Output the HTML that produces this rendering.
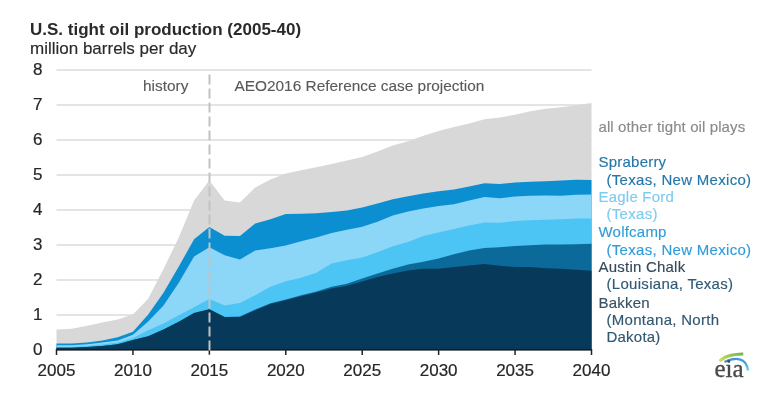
<!DOCTYPE html>
<html><head><meta charset="utf-8"><style>
html,body{margin:0;padding:0;background:#fff;}
body{width:776px;height:395px;overflow:hidden;position:relative;}
svg{position:absolute;left:0;top:0;filter:blur(0.35px);}
text{font-family:"Liberation Sans",sans-serif;}
</style></head><body>
<svg width="776" height="395" viewBox="0 0 776 395">
<rect width="776" height="395" fill="#fff"/>
<text x="30" y="34.9" font-size="17" font-weight="bold" fill="#2a2a2a">U.S. tight oil production (2005-40)</text>
<text x="30" y="53.7" font-size="17" fill="#2a2a2a" stroke="#2a2a2a" stroke-width="0.15">million barrels per day</text>
<rect x="56.5" y="314" width="535" height="2" fill="#e4e4e4"/>
<rect x="56.5" y="279" width="535" height="2" fill="#e4e4e4"/>
<rect x="56.5" y="244" width="535" height="2" fill="#e4e4e4"/>
<rect x="56.5" y="209" width="535" height="2" fill="#e4e4e4"/>
<rect x="56.5" y="174" width="535" height="2" fill="#e4e4e4"/>
<rect x="56.5" y="139" width="535" height="2" fill="#e4e4e4"/>
<rect x="56.5" y="104" width="535" height="2" fill="#e4e4e4"/>
<rect x="56.5" y="69" width="535" height="2" fill="#e4e4e4"/>

<g>
<path d="M56.5 349.5 L56.50,329.55 71.79,328.85 87.07,325.70 102.36,322.55 117.64,319.40 132.93,314.50 148.21,298.75 163.50,269.00 178.79,237.50 194.07,200.40 209.36,180.45 224.64,200.40 239.93,202.50 255.21,187.45 270.50,179.40 285.79,173.45 301.07,170.30 316.36,167.15 331.64,164.00 346.93,160.50 362.21,157.00 377.50,151.40 392.79,145.45 408.07,141.25 423.36,135.65 438.64,131.10 453.93,126.90 469.21,123.40 484.50,119.20 499.79,117.45 515.07,114.65 530.36,111.15 545.64,108.70 560.93,107.30 576.21,105.20 591.50,103.10 L591.5 349.5Z" fill="#d8d8d8"/>
<path d="M56.5 349.5 L56.50,343.55 71.79,343.55 87.07,342.50 102.36,340.40 117.64,337.25 132.93,331.65 148.21,314.50 163.50,292.80 178.79,266.55 194.07,239.25 209.36,227.00 224.64,235.75 239.93,236.10 255.21,223.50 270.50,219.30 285.79,214.05 301.07,213.70 316.36,213.35 331.64,211.95 346.93,210.55 362.21,207.40 377.50,203.55 392.79,199.35 408.07,196.20 423.36,193.40 438.64,191.30 453.93,189.55 469.21,186.40 484.50,183.25 499.79,183.95 515.07,182.55 530.36,181.85 545.64,181.15 560.93,180.45 576.21,179.75 591.50,180.10 L591.5 349.5Z" fill="#0b8fd1"/>
<path d="M56.5 349.5 L56.50,345.30 71.79,345.30 87.07,344.25 102.36,342.50 117.64,340.40 132.93,334.80 148.21,321.50 163.50,305.40 178.79,282.65 194.07,256.40 209.36,247.30 224.64,255.35 239.93,259.55 255.21,250.45 270.50,248.35 285.79,245.55 301.07,241.35 316.36,237.50 331.64,232.95 346.93,229.80 362.21,226.65 377.50,221.75 392.79,215.45 408.07,211.60 423.36,208.45 438.64,206.00 453.93,204.25 469.21,200.40 484.50,196.90 499.79,198.30 515.07,196.55 530.36,195.85 545.64,195.50 560.93,195.85 576.21,194.80 591.50,194.45 L591.5 349.5Z" fill="#8cd6f8"/>
<path d="M56.5 349.5 L56.50,347.05 71.79,347.05 87.07,346.00 102.36,344.60 117.64,342.50 132.93,337.95 148.21,330.25 163.50,323.60 178.79,315.20 194.07,307.15 209.36,299.10 224.64,305.40 239.93,302.95 255.21,295.25 270.50,286.85 285.79,281.25 301.07,277.75 316.36,272.85 331.64,263.40 346.93,260.25 362.21,257.45 377.50,252.20 392.79,246.25 408.07,242.05 423.36,236.10 438.64,232.60 453.93,229.10 469.21,225.60 484.50,222.45 499.79,222.80 515.07,221.05 530.36,220.35 545.64,219.65 560.93,219.30 576.21,218.60 591.50,218.60 L591.5 349.5Z" fill="#4cc4f4"/>
<path d="M56.5 349.5 L56.50,347.75 71.79,347.75 87.07,347.05 102.36,346.00 117.64,344.25 132.93,340.05 148.21,336.20 163.50,329.55 178.79,321.85 194.07,313.10 209.36,309.25 224.64,316.95 239.93,316.60 255.21,309.60 270.50,303.30 285.79,299.45 301.07,295.25 316.36,291.40 331.64,286.85 346.93,283.70 362.21,278.45 377.50,273.55 392.79,268.65 408.07,264.45 423.36,261.65 438.64,258.50 453.93,254.30 469.21,250.45 484.50,248.00 499.79,247.30 515.07,245.90 530.36,245.20 545.64,244.50 560.93,244.50 576.21,244.15 591.50,243.80 L591.5 349.5Z" fill="#0b6a99"/>
<path d="M56.5 349.5 L56.50,347.75 71.79,347.75 87.07,347.05 102.36,346.00 117.64,344.25 132.93,340.05 148.21,336.20 163.50,329.55 178.79,321.85 194.07,313.10 209.36,309.25 224.64,316.95 239.93,316.95 255.21,310.30 270.50,304.00 285.79,300.15 301.07,296.30 316.36,292.45 331.64,288.60 346.93,285.80 362.21,281.60 377.50,277.05 392.79,273.55 408.07,270.40 423.36,268.65 438.64,268.65 453.93,266.90 469.21,265.50 484.50,264.10 499.79,265.85 515.07,266.90 530.36,266.90 545.64,268.30 560.93,268.65 576.21,269.70 591.50,270.75 L591.5 349.5Z" fill="#073a5a"/>
</g>
<rect x="56.5" y="349" width="535" height="1.6" fill="#1a1a1a"/>
<rect x="55.75" y="349" width="1.5" height="6" fill="#222"/><rect x="132.18" y="349" width="1.5" height="6" fill="#222"/><rect x="208.61" y="349" width="1.5" height="6" fill="#222"/><rect x="285.04" y="349" width="1.5" height="6" fill="#222"/><rect x="361.46" y="349" width="1.5" height="6" fill="#222"/><rect x="437.89" y="349" width="1.5" height="6" fill="#222"/><rect x="514.32" y="349" width="1.5" height="6" fill="#222"/><rect x="590.75" y="349" width="1.5" height="6" fill="#222"/>
<line x1="209.5" y1="74.5" x2="209.5" y2="355" stroke="#c2c2c2" stroke-width="2" stroke-dasharray="10 4"/>
<g font-size="17" fill="#262626" stroke="#262626" stroke-width="0.2"><text x="42.5" y="354.9" text-anchor="end">0</text><text x="42.5" y="319.9" text-anchor="end">1</text><text x="42.5" y="284.9" text-anchor="end">2</text><text x="42.5" y="249.9" text-anchor="end">3</text><text x="42.5" y="214.9" text-anchor="end">4</text><text x="42.5" y="179.9" text-anchor="end">5</text><text x="42.5" y="144.9" text-anchor="end">6</text><text x="42.5" y="109.9" text-anchor="end">7</text><text x="42.5" y="74.9" text-anchor="end">8</text><text x="56.50" y="375.9" text-anchor="middle">2005</text><text x="132.93" y="375.9" text-anchor="middle">2010</text><text x="209.36" y="375.9" text-anchor="middle">2015</text><text x="285.79" y="375.9" text-anchor="middle">2020</text><text x="362.21" y="375.9" text-anchor="middle">2025</text><text x="438.64" y="375.9" text-anchor="middle">2030</text><text x="515.07" y="375.9" text-anchor="middle">2035</text><text x="591.50" y="375.9" text-anchor="middle">2040</text></g>
<g font-size="15.4" fill="#595959" stroke="#595959" stroke-width="0.12">
<text x="143" y="90.8">history</text>
<text x="234.5" y="90.7">AEO2016 Reference case projection</text>
</g>
<g font-size="15" stroke-width="0.15"><text x="598.5" y="131.9" fill="#8a8a8a" stroke="#8a8a8a" letter-spacing="0.1">all other tight oil plays</text><text x="598.5" y="167.3" fill="#2477a8" stroke="#2477a8" letter-spacing="0.22">Spraberry</text><text x="606.5" y="184.8" fill="#2477a8" stroke="#2477a8" letter-spacing="0.3">(Texas, New Mexico)</text><text x="598.5" y="202.0" fill="#7ecbf0" stroke="#7ecbf0" letter-spacing="0.22">Eagle Ford</text><text x="606.5" y="219.2" fill="#7ecbf0" stroke="#7ecbf0" letter-spacing="0.3">(Texas)</text><text x="598.5" y="237.3" fill="#329cd8" stroke="#329cd8" letter-spacing="0.22">Wolfcamp</text><text x="606.5" y="254.8" fill="#329cd8" stroke="#329cd8" letter-spacing="0.3">(Texas, New Mexico)</text><text x="598.5" y="272.3" fill="#34495a" stroke="#34495a" letter-spacing="0.22">Austin Chalk</text><text x="606.5" y="289.4" fill="#2d5a78" stroke="#2d5a78" letter-spacing="0.3">(Louisiana, Texas)</text><text x="598.5" y="307.5" fill="#355166" stroke="#355166" letter-spacing="0.22">Bakken</text><text x="606.5" y="325.0" fill="#315670" stroke="#315670" letter-spacing="0.3">(Montana, North</text><text x="606.5" y="342.3" fill="#315670" stroke="#315670" letter-spacing="0.22">Dakota)</text></g>
<g>
<defs><linearGradient id="gg" x1="0" y1="1" x2="1" y2="0"><stop offset="0" stop-color="#d6e05a"/><stop offset="1" stop-color="#74b652"/></linearGradient>
<linearGradient id="bg" x1="0" y1="0" x2="1" y2="1"><stop offset="0" stop-color="#3f8fd0"/><stop offset="0.6" stop-color="#3aa6de"/><stop offset="1" stop-color="#6fd0f0"/></linearGradient></defs>
<path d="M719.6 361.2 C723 357 730 354.3 743.3 353.9" stroke="url(#gg)" stroke-width="3" fill="none"/>
<path d="M724.5 362 C735 357 746.5 357 748 370.5" stroke="url(#bg)" stroke-width="2.4" fill="none"/>
<text x="714.5" y="377" style="font-family:'Liberation Serif',serif" font-size="25" fill="#4a4a4a" stroke="#4a4a4a" stroke-width="0.35">eia</text>
</g>
</svg>
</body></html>
